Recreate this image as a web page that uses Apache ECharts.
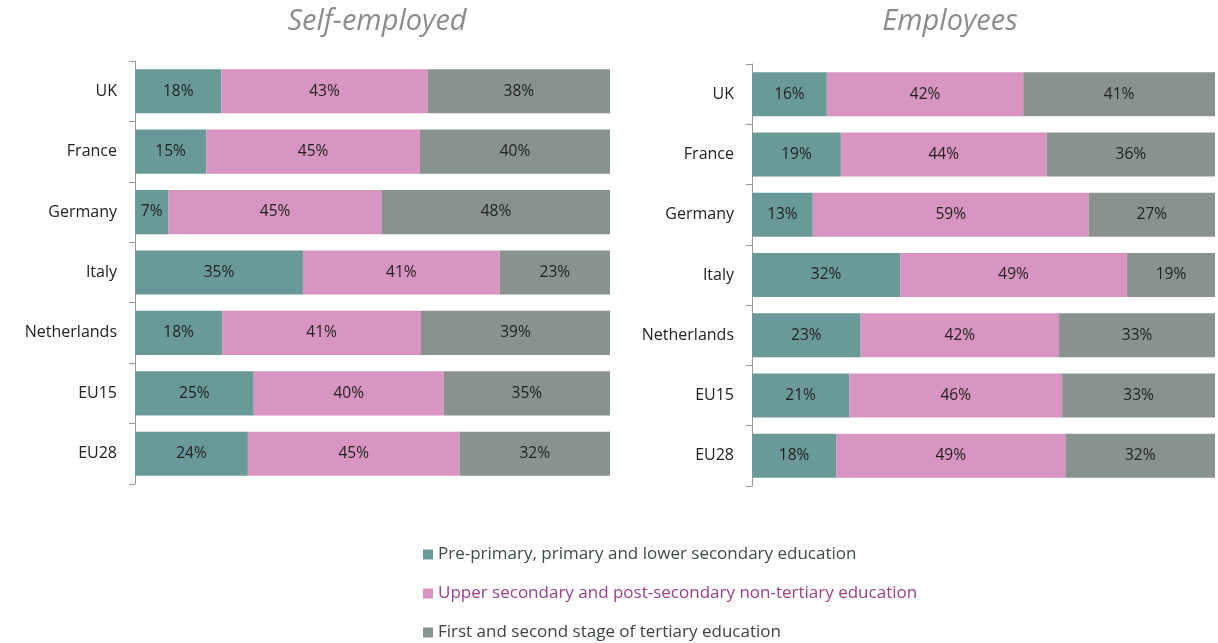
<!DOCTYPE html>
<html>
<head>
<meta charset="utf-8">
<title>Education level - self-employed vs employees</title>
<script src="https://cdn.jsdelivr.net/npm/echarts@6/dist/echarts.min.js"></script>
<style>
  html, body { margin: 0; padding: 0; background: #fff; }
  #main { width: 1218px; height: 643px; }
</style>
</head>
<body>
<div id="main"></div>
<script>
  // categories (top to bottom)
  var countries = ['UK', 'France', 'Germany', 'Italy', 'Netherlands', 'EU15', 'EU28'];
  var seriesNames = [
    'Pre-primary, primary and lower secondary education',
    'Upper secondary and post-secondary non-tertiary education',
    'First and second stage of tertiary education'
  ];

  // Self-employed, % per education level
  var selfLower    = [18, 15, 7, 35, 18, 25, 24];
  var selfUpper    = [43, 45, 45, 41, 41, 40, 45];
  var selfTertiary = [38, 40, 48, 23, 39, 35, 32];

  // Employees, % per education level
  var empLower    = [16, 19, 13, 32, 23, 21, 18];
  var empUpper    = [42, 44, 59, 49, 42, 46, 49];
  var empTertiary = [41, 36, 27, 19, 33, 33, 32];

  var colors = ['#6a9a98', '#d895c1', '#87938c'];
  var legendText = ['#3f4a4a', '#9c3f87', '#3f4444'];
  var font = 'Open Sans';

  // 100% stacked: scale each row so it fills the axis
  function share(parts, i) {
    var total = 0;
    parts.forEach(function (p) { total += p[i]; });
    return parts.map(function (p) { return p[i] / total * 100; });
  }

  function makeSeries(parts, idx, stackName) {
    return parts.map(function (arr, k) {
      return {
        name: seriesNames[k],
        type: 'bar',
        stack: stackName,
        xAxisIndex: idx,
        yAxisIndex: idx,
        barCategoryGap: '27%',
        itemStyle: { color: colors[k] },
        label: {
          show: true,
          position: 'inside',
          color: '#222',
          fontFamily: font,
          fontSize: 15.5,
          formatter: function (p) { return arr[p.dataIndex] + '%'; }
        },
        data: countries.map(function (c, i) { return share(parts, i)[k]; })
      };
    });
  }

  function yAxis(idx) {
    return {
      type: 'category',
      gridIndex: idx,
      inverse: true,
      data: countries,
      axisLine: { show: true, lineStyle: { color: '#999' } },
      axisTick: { show: true, alignWithLabel: false, length: 6, lineStyle: { color: '#999' } },
      axisLabel: { color: '#222', fontFamily: font, fontSize: 16, margin: 18 }
    };
  }

  function xAxis(idx) {
    return { type: 'value', gridIndex: idx, min: 0, max: 100, show: false };
  }

  var titleStyle = { color: '#8c8c8c', fontStyle: 'italic', fontWeight: 'normal', fontFamily: font, fontSize: 29 };

  var chart = echarts.init(document.getElementById('main'));
  chart.setOption({
    animation: false,
    title: [
      { text: 'Self-employed', left: 372, top: 2, textAlign: 'center', textStyle: titleStyle },
      { text: 'Employees', left: 945, top: 2, textAlign: 'center', textStyle: titleStyle }
    ],
    legend: {
      orient: 'vertical',
      left: 418,
      top: 541,
      height: 120,
      icon: 'rect',
      itemWidth: 10,
      itemHeight: 10,
      itemGap: 22,
      textStyle: { fontFamily: font, fontSize: 17 },
      data: seriesNames.map(function (n, k) {
        return { name: n, textStyle: { color: legendText[k] } };
      })
    },
    grid: [
      { left: 135, width: 475, top: 61, height: 423 },
      { left: 752, width: 463, top: 64, height: 422 }
    ],
    xAxis: [xAxis(0), xAxis(1)],
    yAxis: [yAxis(0), yAxis(1)],
    series: makeSeries([selfLower, selfUpper, selfTertiary], 0, 'self')
      .concat(makeSeries([empLower, empUpper, empTertiary], 1, 'emp'))
  });
</script>
</body>
</html>
